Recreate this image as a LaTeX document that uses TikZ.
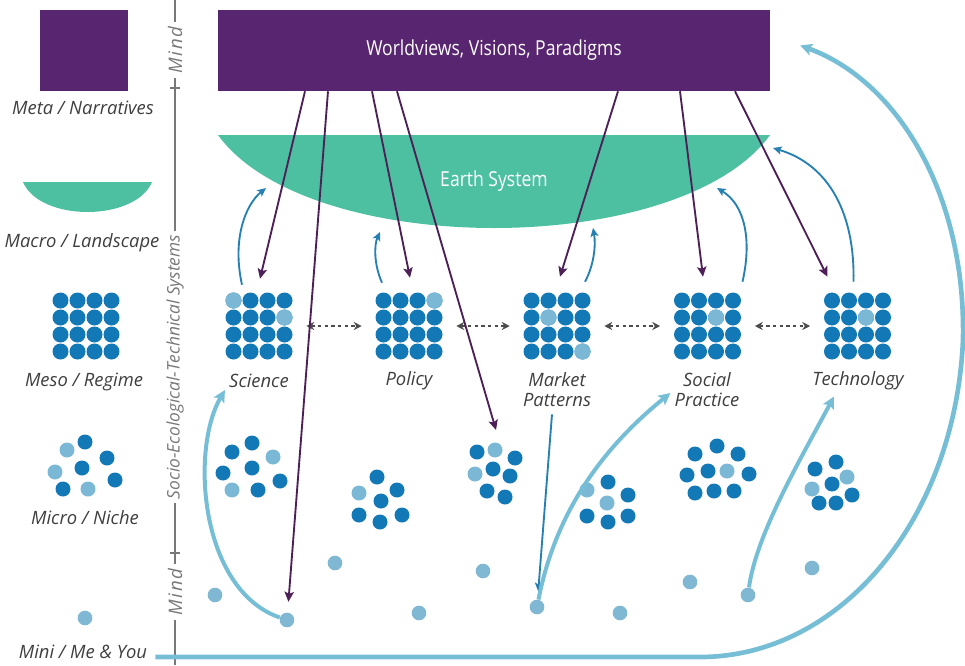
\documentclass[tikz,border=0pt]{standalone}
\usepackage{fontspec}
\setmainfont{Open Sans}
\newfontfamily\condfont[FakeStretch=0.85]{Open Sans}
\usepackage{xcolor}
\usepackage{tikz}
\usetikzlibrary{arrows.meta,calc}

\definecolor{wvpurple}{RGB}{88,38,112}
\definecolor{arrpurple}{RGB}{78,32,88}
\definecolor{earthteal}{RGB}{78,192,162}
\definecolor{dotdark}{RGB}{18,120,182}
\definecolor{dotlight}{RGB}{122,184,214}
\definecolor{minidot}{RGB}{128,184,212}
\definecolor{flowlight}{RGB}{118,190,214}
\definecolor{flowblue}{RGB}{38,128,178}
\definecolor{labelgray}{RGB}{62,62,62}
\definecolor{axisgray}{RGB}{120,120,120}

\begin{document}
\begin{tikzpicture}[x=0.75pt,y=0.75pt,yscale=-1,xscale=1,
  lbl/.style={font=\fontsize{13.8}{15}\selectfont\itshape, text=labelgray, align=center, inner sep=0},
  axislbl/.style={font=\fontsize{13}{15}\selectfont\itshape, text=axisgray, fill=white, rotate=90, inner sep=3pt},
  wvbox/.style={fill=wvpurple, text=white, minimum width=414pt, minimum height=60.75pt, inner sep=0, font=\condfont\fontsize{15.5}{17}\selectfont},
  regime/.style={minimum size=51pt, inner sep=0},
  minidt/.style={circle, fill=minidot, minimum size=11pt, inner sep=0},
  downarr/.style={arrpurple, line width=1.4pt, -{Stealth[length=7.5pt,width=7pt,inset=1.5pt]}},
  uparr/.style={flowblue, line width=1.4pt, -{Stealth[length=6.5pt,width=6pt,inset=1.5pt]}},
  flowarr/.style={flowlight, line width=3pt, -{Stealth[length=9pt,width=9pt,inset=2pt]}},
  linkarr/.style={black!70, line width=1.4pt, dash pattern=on 2.5pt off 2.5pt, {Stealth[length=6pt,width=6pt]}-{Stealth[length=6pt,width=6pt]}, shorten <=9.75pt, shorten >=9.75pt}
]
\useasboundingbox (0,0) rectangle (965,665);

% legend column
\fill[wvpurple] (40,10) rectangle (128,91);
\node[lbl] (metalbl) at (83,108) {Meta / Narratives};
\fill[earthteal] (23,182) .. controls (40,222) and (135,222) .. (152,182) -- cycle;
\node[lbl] (macrolbl) at (82,243) {Macro / Landscape};
\node[regime] (mesoicon) at (86,326) {};
\node[lbl] (mesolbl) at (84,382) {Meso / Regime};
\foreach \px/\py in {85/442,107/458,82/468,115/480,63/489}
  \fill[dotdark] (\px,\py) circle (7.5);
\foreach \px/\py in {67/450,55/472,88/489}
  \fill[dotlight] (\px,\py) circle (7.5);
\node[lbl] (microlbl) at (85,518) {Micro / Niche};
\node[minidt] (mini0) at (85,618) {};
\node[lbl] (minilbl) at (83,652) {Mini / Me \& You};

% axis
\draw[axisgray, line width=0.8pt] (175,0) -- (175,665);
\draw[axisgray, line width=0.8pt] (170,88) -- (180,88) (170,553) -- (180,553);
\node[axislbl, font=\fontsize{14}{16}\selectfont\itshape\addfontfeature{LetterSpace=10}] (mindtop) at (175,50) {Mind};
\node[axislbl] (stslbl) at (175,367) {Socio-Ecological-Technical Systems};
\node[axislbl, font=\fontsize{14}{16}\selectfont\itshape\addfontfeature{LetterSpace=10}] (mindbot) at (175,592) {Mind};

% worldviews and earth system
\node[wvbox] (wv) at (494,50.5) {Worldviews, Visions, Paradigms};
\fill[earthteal] (218,135) .. controls (308,259) and (680,259) .. (770,135) -- cycle;
\node[font=\condfont\fontsize{15.5}{17}\selectfont, text=white] (es) at (494,181) {Earth System};
\coordinate (es1) at (266,188);
\coordinate (es2) at (380,232);
\coordinate (es3) at (593,228);
\coordinate (es4) at (717,188);
\coordinate (es5) at (773,148);

% regimes
\foreach \n/\cx in {sci/259,pol/409,mkt/557,soc/707.5,tec/857.5}
  \node[regime] (\n) at (\cx,326) {};
\foreach \cx in {86,259,409,557,707.5,857.5}
  \foreach \i in {0,...,3}
    \foreach \j in {0,...,3}
      \fill[dotdark] (\cx-25.5+17*\i,300.5+17*\j) circle (8);
\foreach \cx/\i/\j in {259/0/0,259/3/1,409/3/0,557/1/1,557/3/3,707.5/2/1,857.5/2/1}
  \fill[dotlight] (\cx-25.5+17*\i,300.5+17*\j) circle (8);

\node[lbl] (scilbl) at (259,381) {Science};
\node[lbl] (pollbl) at (409,381) {Policy};
\node[lbl] (mktlbl) at (557,390) {Market\\Patterns};
\node[lbl] (soclbl) at (707,390) {Social\\Practice};
\node[lbl] (teclbl) at (858,381) {Technology};

\draw[linkarr] (sci) -- (pol);
\draw[linkarr] (pol) -- (mkt);
\draw[linkarr] (mkt) -- (soc);
\draw[linkarr] (soc) -- (tec);

% niches
\foreach \px/\py in {252/443,232/452,252/468,223/473,280/481,258/490,
                     377/477,397/490,381/501,359/515,402/515,380/522,
                     477/452,515/458,493/469,510/476,487/491,505/497,
                     608/482,628/495,587/516,608/522,628/516,
                     717/446,695/454,738/454,687/475,708/471,749/474,695/493,714/491,734/491,
                     836/462,815/469,832/484,852/495,819/503,836/503}
  \fill[dotdark] (\px,\py) circle (7.5);
\foreach \px/\py in {273/457,232/490,359/493,495/450,475/474,587/490,607/503,727/471,847/477,812/489}
  \fill[dotlight] (\px,\py) circle (7.5);
\coordinate (nicC) at (496,472);

% me and you
\node[minidt] (mini1) at (215,595) {};
\node[minidt] (mini2) at (287,620) {};
\node[minidt] (mini3) at (335,563) {};
\node[minidt] (mini4) at (419,613) {};
\node[minidt] (mini5) at (483,571) {};
\node[minidt] (mini6) at (537,607) {};
\node[minidt] (mini7) at (620,613) {};
\node[minidt] (mini8) at (690,582) {};
\node[minidt] (mini9) at (748,595) {};
\node[minidt] (mini10) at (812,568) {};

% from the mind down
\draw[downarr] ($(wv.south)+(-189,0)$) -- ($(sci.north)+(1,-13)$);
\draw[downarr, shorten >=8pt] ($(wv.south)+(-166,0)$) -- (mini2);
\draw[downarr] ($(wv.south)+(-122,0)$) -- ($(pol.north)+(1,-14)$);
\draw[downarr] ($(wv.south)+(-97,0)$) -- ($(nicC)+(0,-42)$);
\draw[downarr] ($(wv.south)+(124,0)$) -- ($(mkt.north)+(3,-15)$);
\draw[downarr] ($(wv.south)+(186,0)$) -- ($(soc.north)+(-4.5,-15)$);
\draw[downarr] ($(wv.south)+(241,0)$) -- ($(tec.north)+(-30,-15)$);

% regimes up to the earth system
\draw[uparr] ($(sci.north)+(-17,-7)$) .. controls (232,240) and (245,205) .. (es1);
\draw[uparr] ($(pol.north)+(-27,-9)$) .. controls (374,265) and (374,245) .. (es2);
\draw[uparr] ($(mkt.north)+(28,-10)$) .. controls (594,265) and (596,245) .. (es3);
\draw[uparr] ($(soc.north)+(35,-10)$) .. controls (752,240) and (745,205) .. (es4);
\draw[uparr] ($(tec.north)+(-4,-10)$) .. controls (855,215) and (830,165) .. (es5);

% me and you up to the regimes
\draw[uparr, shorten >=6pt] ($(mktlbl.south)+(-5,7)$) -- (mini6);
\draw[flowarr] (mini2) .. controls (200,590) and (190,450) .. ($(scilbl.west)+(-4,9)$);
\draw[flowarr] (mini6) .. controls (555,515) and (600,450) .. ($(soclbl.west)+(-4,3)$);
\draw[flowarr] (mini9) .. controls (756,535) and (800,460) .. ($(teclbl.south)+(-24,6)$);
\draw[flowarr, line width=3.5pt] ($(minilbl.east)+(8,5)$) -- (700,657)
  .. controls (840,657) and (955,520) .. (963,340)
  .. controls (966,190) and (895,80) .. ($(wv.east)+(30,-5)$);

\end{tikzpicture}
\end{document}
